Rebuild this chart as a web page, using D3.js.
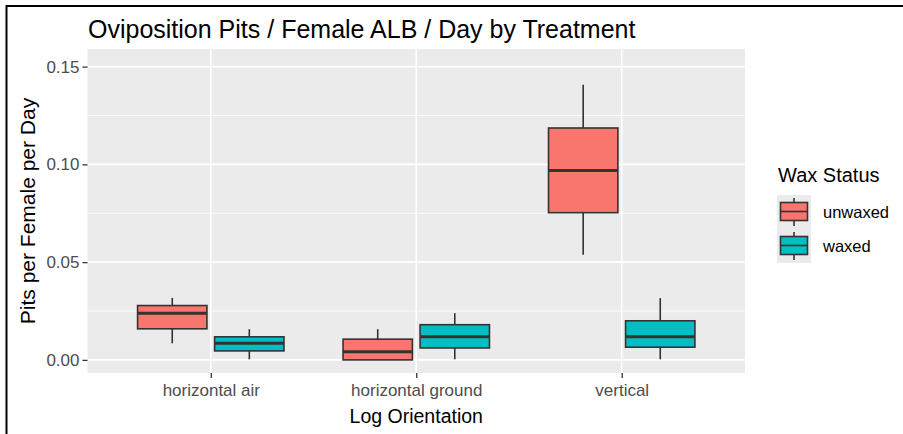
<!DOCTYPE html>
<html>
<head>
<meta charset="utf-8">
<script src="https://cdn.jsdelivr.net/npm/d3@7"></script>
<style>
  html, body { margin: 0; padding: 0; background: #fff; }
  svg { display: block; font-family: "Liberation Sans", Arial, sans-serif; }
</style>
</head>
<body>
<svg id="chart" width="903" height="434"></svg>
<script>
// Log orientation categories and wax treatment groups
const orientations = ["horizontal air", "horizontal ground", "vertical"];
const waxStatus = ["unwaxed", "waxed"];

// Box summaries (pits per female per day): lower whisker, Q1, median, Q3, upper whisker
const unwaxedStats = [
  [0.0085, 0.0159, 0.0239, 0.0278, 0.0317],
  [0.0000, 0.0000, 0.0042, 0.0106, 0.0157],
  [0.0538, 0.0753, 0.0969, 0.1186, 0.1407]
];
const waxedStats = [
  [0.0003, 0.0046, 0.0085, 0.0118, 0.0157],
  [0.0003, 0.0061, 0.0119, 0.0180, 0.0239],
  [0.0003, 0.0065, 0.0119, 0.0200, 0.0316]
];

const yTicks = [0, 0.05, 0.10, 0.15];
const yMinor = [0.025, 0.075, 0.125];

const colors = { unwaxed: "#F8766D", waxed: "#00BFC4" };

const svg = d3.select("#chart");

// frame around the figure
svg.append("rect")
  .attr("x", 6.5).attr("y", 6).attr("width", 910).attr("height", 440)
  .attr("fill", "none").attr("stroke", "#000").attr("stroke-width", 2);

const panel = { left: 87.5, right: 745, top: 49, bottom: 373 };

const y = d3.scaleLinear().domain([-0.0067, 0.159]).range([panel.bottom, panel.top]);
const x = d3.scalePoint().domain(orientations).range([panel.left, panel.right]).padding(0.6);
const step = x.step();
const dodge = d3.scaleBand().domain(waxStatus).range([-step * 0.375, step * 0.375]);
const boxW = dodge.bandwidth() * 0.9;

// panel background
svg.append("rect")
  .attr("x", panel.left).attr("y", panel.top)
  .attr("width", panel.right - panel.left).attr("height", panel.bottom - panel.top)
  .attr("fill", "#EBEBEB");

// grid
const grid = svg.append("g");
grid.selectAll(".minor").data(yMinor).join("line")
  .attr("x1", panel.left).attr("x2", panel.right)
  .attr("y1", d => y(d)).attr("y2", d => y(d))
  .attr("stroke", "#fff").attr("stroke-width", 0.8);
grid.selectAll(".majory").data(yTicks).join("line")
  .attr("x1", panel.left).attr("x2", panel.right)
  .attr("y1", d => y(d)).attr("y2", d => y(d))
  .attr("stroke", "#fff").attr("stroke-width", 1.6);
grid.selectAll(".majorx").data(orientations).join("line")
  .attr("x1", d => x(d)).attr("x2", d => x(d))
  .attr("y1", panel.top).attr("y2", panel.bottom)
  .attr("stroke", "#fff").attr("stroke-width", 1.6);

// boxes
const boxes = [];
orientations.forEach((o, i) => {
  boxes.push({ cat: o, grp: "unwaxed", s: unwaxedStats[i] });
  boxes.push({ cat: o, grp: "waxed", s: waxedStats[i] });
});

const stroke = "#333333";
const bg = svg.append("g").selectAll("g").data(boxes).join("g")
  .attr("transform", d => `translate(${x(d.cat) + dodge(d.grp) + dodge.bandwidth() / 2},0)`);

bg.append("line")
  .attr("x1", 0).attr("x2", 0)
  .attr("y1", d => y(d.s[4])).attr("y2", d => y(d.s[3]))
  .attr("stroke", stroke).attr("stroke-width", 1.6);
bg.append("line")
  .attr("x1", 0).attr("x2", 0)
  .attr("y1", d => y(d.s[1])).attr("y2", d => y(d.s[0]))
  .attr("stroke", stroke).attr("stroke-width", 1.6);
bg.append("rect")
  .attr("x", -boxW / 2).attr("width", boxW)
  .attr("y", d => y(d.s[3])).attr("height", d => Math.max(0, y(d.s[1]) - y(d.s[3])))
  .attr("fill", d => colors[d.grp]).attr("stroke", stroke).attr("stroke-width", 1.6);
bg.append("line")
  .attr("x1", -boxW / 2).attr("x2", boxW / 2)
  .attr("y1", d => y(d.s[2])).attr("y2", d => y(d.s[2]))
  .attr("stroke", stroke).attr("stroke-width", 3);

// y axis
const yAxis = svg.append("g")
  .attr("transform", `translate(${panel.left},0)`)
  .call(d3.axisLeft(y).tickValues(yTicks).tickFormat(d3.format(".2f")).tickSize(5).tickPadding(3));
yAxis.select(".domain").remove();
yAxis.selectAll(".tick line").attr("stroke", "#333").attr("stroke-width", 1.3);
yAxis.selectAll(".tick text").attr("fill", "#4D4D4D")
  .style("font-size", "17px").style("font-family", "Liberation Sans, Arial, sans-serif");

// x axis
const xAxis = svg.append("g")
  .attr("transform", `translate(0,${panel.bottom})`)
  .call(d3.axisBottom(x).tickSize(5).tickPadding(6));
xAxis.select(".domain").remove();
xAxis.selectAll(".tick line").attr("stroke", "#333").attr("stroke-width", 1.3);
xAxis.selectAll(".tick text").attr("fill", "#4D4D4D")
  .style("font-size", "17px").style("font-family", "Liberation Sans, Arial, sans-serif");

// titles
svg.append("text")
  .attr("x", 88).attr("y", 38)
  .style("font-size", "25px").attr("fill", "#000")
  .text("Oviposition Pits / Female ALB / Day by Treatment");

svg.append("text")
  .attr("x", (panel.left + panel.right) / 2).attr("y", 423)
  .attr("text-anchor", "middle").style("font-size", "19.5px").attr("fill", "#000")
  .text("Log Orientation");

svg.append("text")
  .attr("transform", `translate(35,${(panel.top + panel.bottom) / 2}) rotate(-90)`)
  .attr("text-anchor", "middle").style("font-size", "21px").attr("fill", "#000")
  .text("Pits per Female per Day");

// legend
const legend = svg.append("g").attr("transform", "translate(777,0)");
legend.append("text").attr("x", 1).attr("y", 182)
  .style("font-size", "20px").attr("fill", "#000").text("Wax Status");

const keyH = 34;
const keys = legend.selectAll(".key").data(waxStatus).join("g")
  .attr("transform", (d, i) => `translate(0,${195 + i * keyH})`);
keys.append("rect").attr("x", 0).attr("y", 0).attr("width", 34).attr("height", keyH)
  .attr("fill", "#EBEBEB");
keys.append("line").attr("x1", 17).attr("x2", 17).attr("y1", 3).attr("y2", 31)
  .attr("stroke", stroke).attr("stroke-width", 1.6);
keys.append("rect").attr("x", 3.5).attr("y", 7.5).attr("width", 27).attr("height", 18)
  .attr("fill", d => colors[d]).attr("stroke", stroke).attr("stroke-width", 1.6);
keys.append("line").attr("x1", 3.5).attr("x2", 30.5).attr("y1", 16.5).attr("y2", 16.5)
  .attr("stroke", stroke).attr("stroke-width", 1.6);
keys.append("text").attr("x", 46).attr("y", 17).attr("dy", "0.35em")
  .style("font-size", "16.5px").attr("fill", "#000").text(d => d);
</script>
</body>
</html>
